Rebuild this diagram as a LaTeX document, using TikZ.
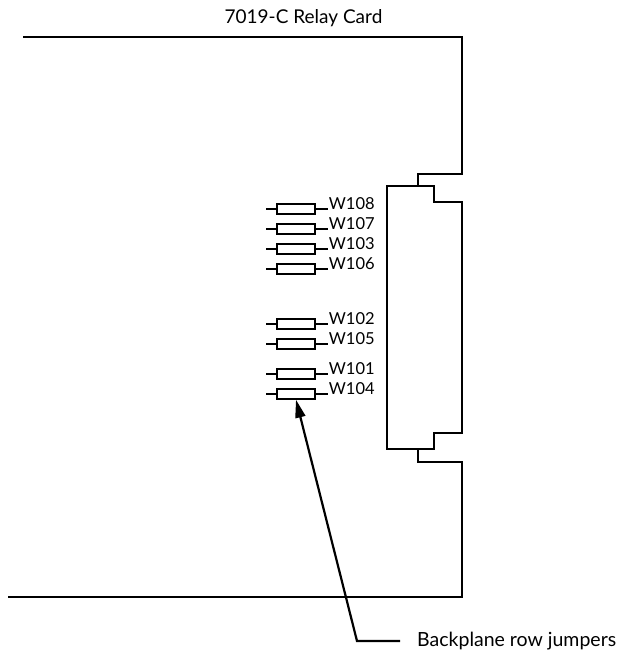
\documentclass[tikz,border=0pt]{standalone}
\usepackage{fontspec}
\setmainfont{Lato}
\usetikzlibrary{arrows.meta,positioning}

\tikzset{
  outline/.style={line width=2.8pt},
  jumper/.style={draw, line width=1.9pt, minimum width=38pt, minimum height=9.5pt, inner sep=0pt},
  lead/.style={line width=1.9pt},
  lbl/.style={anchor=base west, inner sep=0pt, font=\fontsize{16.5}{16.5}\selectfont},
  pointer/.style={line width=2.2pt}
}

\begin{document}
\begin{tikzpicture}[x=1pt,y=-1pt]
        \useasboundingbox (0,0) rectangle (624,650);

        % card outline and backplane connector
        \draw[outline] (23,37) -- (462,37) -- (462,174) -- (418,174) -- (418,186);
        \draw[outline] (387,186) -- (434,186) -- (434,202) -- (462,202) -- (462,433)
                -- (434,433) -- (434,449) -- (387,449) -- cycle;
        \draw[outline] (418,449) -- (418,462) -- (462,462) -- (462,597) -- (8,597);

        \node[anchor=base, inner sep=0pt, font=\fontsize{19}{19}\selectfont] (title) at (303.5,24) {7019-C Relay Card};

        % jumpers
        \foreach \n/\y in {108/209,107/229,103/249,106/269,102/324,105/344,101/374,104/394} {
                \node[jumper] (w\n) at (296,\y) {};
                \draw[lead] (w\n.west) -- ++(-10,0);
                \draw[lead] (w\n.east) -- ++(12,0) node[lbl] (l\n) {W\n};
        }

        % callout
        \coordinate (bend) at (357,641);
        \node[anchor=west, inner sep=0pt, font=\fontsize{19.5}{19.5}\selectfont] (bp) at (417,641) {Backplane row jumpers};
        \draw[pointer, -{Triangle[length=18pt,width=10pt]}] ([xshift=-17pt]bp.west) -- (bend) -- (w104.south);
\end{tikzpicture}
\end{document}
